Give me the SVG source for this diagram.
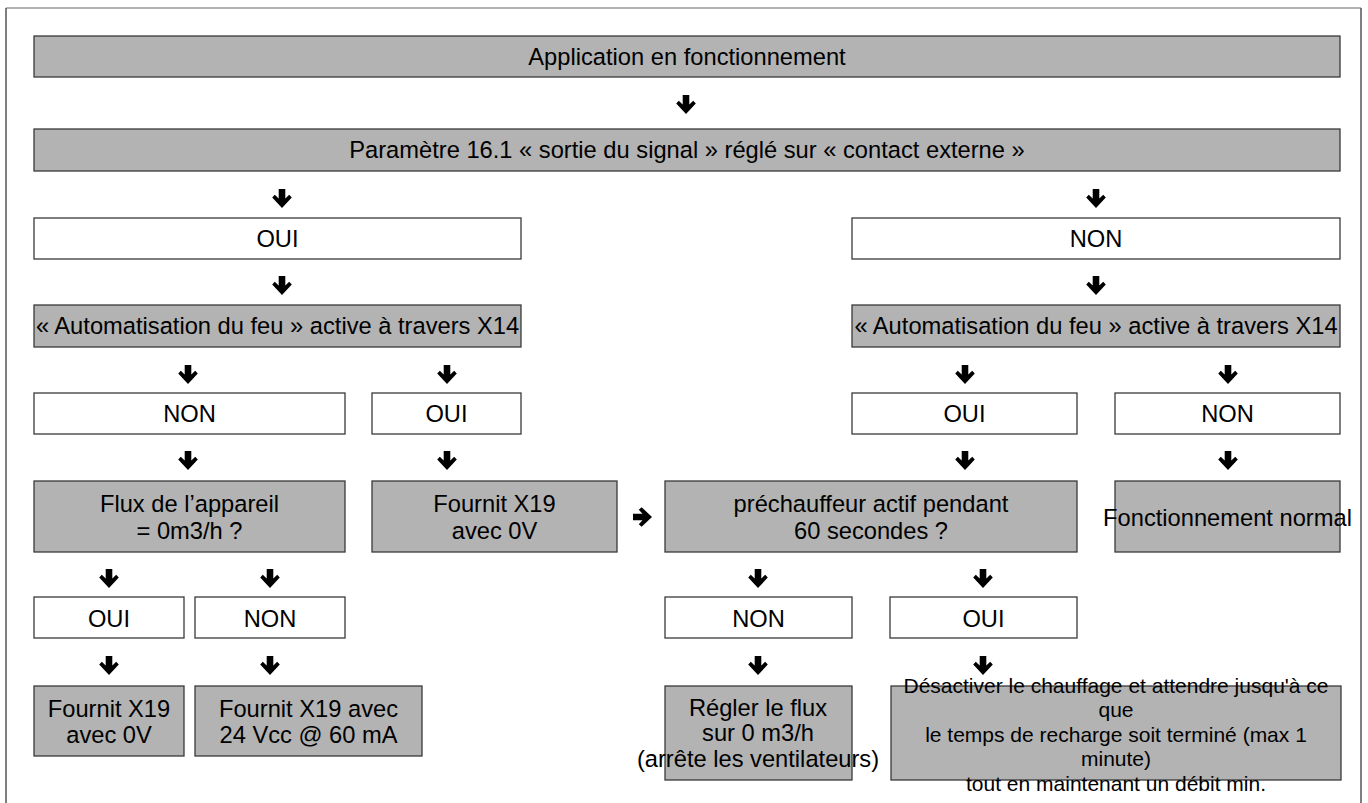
<svg xmlns="http://www.w3.org/2000/svg" xmlns:xlink="http://www.w3.org/1999/xlink" width="1368" height="803" viewBox="0 0 1368 803">
<style>
.g{fill:#b3b3b3;stroke:#3a3a3a;stroke-width:1.3}
.w{fill:#ffffff;stroke:#3a3a3a;stroke-width:1.3}
text{font-family:"Liberation Sans",Arial,sans-serif;font-size:23.7px;fill:#000;text-anchor:middle}
.s{font-size:21px}
.a{fill:#000}
</style>
<defs>
<path id="dn" d="M -3.3 0 H 3.3 V 9.5 L 7.2 5.8 L 9.8 8.6 L 0 19 L -9.8 8.6 L -7.2 5.8 L -3.3 9.5 Z"/>
</defs>
<rect width="1368" height="803" fill="#fff"/>
<g id="frame">
<line x1="6" y1="8" x2="1361" y2="8" stroke="#9a9a9a" stroke-width="1.5"/>
<line x1="6" y1="8" x2="6" y2="803" stroke="#555" stroke-width="1.5"/>
<line x1="1361" y1="8" x2="1361" y2="803" stroke="#555" stroke-width="1.5"/>
</g>
<g id="connectors" class="a">
<use xlink:href="#dn" x="686" y="95"/>
<use xlink:href="#dn" x="282" y="189"/>
<use xlink:href="#dn" x="1096" y="189"/>
<use xlink:href="#dn" x="282" y="276"/>
<use xlink:href="#dn" x="1096" y="276"/>
<use xlink:href="#dn" x="188" y="365"/>
<use xlink:href="#dn" x="447" y="365"/>
<use xlink:href="#dn" x="965" y="365"/>
<use xlink:href="#dn" x="1228" y="365"/>
<use xlink:href="#dn" x="188" y="451"/>
<use xlink:href="#dn" x="447" y="451"/>
<use xlink:href="#dn" x="965" y="451"/>
<use xlink:href="#dn" x="1228" y="451"/>
<use xlink:href="#dn" x="109" y="569"/>
<use xlink:href="#dn" x="270" y="569"/>
<use xlink:href="#dn" x="758" y="569"/>
<use xlink:href="#dn" x="983" y="569"/>
<use xlink:href="#dn" x="109" y="656"/>
<use xlink:href="#dn" x="270" y="656"/>
<use xlink:href="#dn" x="758" y="656"/>
<use xlink:href="#dn" x="983" y="656"/>
<use xlink:href="#dn" transform="translate(633,517) rotate(-90)"/>
</g>
<g id="n1"><rect class="g" x="34" y="36" width="1306" height="41"/><text x="687" y="65">Application en fonctionnement</text></g>
<g id="n2"><rect class="g" x="34" y="129" width="1306" height="42"/><text x="687" y="158">Paramètre 16.1 « sortie du signal » réglé sur « contact externe »</text></g>
<g id="n3"><rect class="w" x="34" y="218" width="487" height="41"/><text x="277.5" y="247">OUI</text></g>
<g id="n4"><rect class="w" x="852" y="218" width="488" height="41"/><text x="1096" y="247">NON</text></g>
<g id="n5"><rect class="g" x="34" y="305" width="487" height="42"/><text x="277.5" y="334">« Automatisation du feu » active à travers X14</text></g>
<g id="n6"><rect class="g" x="852" y="305" width="488" height="42"/><text x="1096" y="334">« Automatisation du feu » active à travers X14</text></g>
<g id="n7"><rect class="w" x="34" y="393" width="311" height="41"/><text x="189.5" y="422">NON</text></g>
<g id="n8"><rect class="w" x="372" y="393" width="149" height="41"/><text x="446.5" y="422">OUI</text></g>
<g id="n9"><rect class="w" x="852" y="393" width="225" height="41"/><text x="964.5" y="422">OUI</text></g>
<g id="n10"><rect class="w" x="1115" y="393" width="225" height="41"/><text x="1227.5" y="422">NON</text></g>
<g id="n11"><rect class="g" x="34" y="481" width="311" height="71"/><text x="189.5" y="512">Flux de l’appareil</text><text x="189.5" y="539">= 0m3/h ?</text></g>
<g id="n12"><rect class="g" x="372" y="481" width="245" height="71"/><text x="494.5" y="512">Fournit X19</text><text x="494.5" y="539">avec 0V</text></g>
<g id="n13"><rect class="g" x="665" y="481" width="412" height="71"/><text x="871" y="512">préchauffeur actif pendant</text><text x="871" y="539">60 secondes ?</text></g>
<g id="n14"><rect class="g" x="1115" y="481" width="225" height="71"/><text x="1227.5" y="526">Fonctionnement normal</text></g>
<g id="n15"><rect class="w" x="34" y="597" width="150" height="41"/><text x="109" y="627">OUI</text></g>
<g id="n16"><rect class="w" x="195" y="597" width="150" height="41"/><text x="270" y="627">NON</text></g>
<g id="n17"><rect class="w" x="665" y="597" width="187" height="41"/><text x="758.5" y="627">NON</text></g>
<g id="n18"><rect class="w" x="890" y="597" width="187" height="41"/><text x="983.5" y="627">OUI</text></g>
<g id="n19"><rect class="g" x="34" y="686" width="150" height="70"/><text x="109" y="716.5">Fournit X19</text><text x="109" y="743">avec 0V</text></g>
<g id="n20"><rect class="g" x="195" y="686" width="227" height="70"/><text x="308.5" y="716.5">Fournit X19 avec</text><text x="308.5" y="743">24 Vcc @ 60 mA</text></g>
<g id="n21"><rect class="g" x="665" y="686" width="187" height="94"/><text x="758" y="715.5">Régler le flux</text><text x="758" y="741">sur 0 m3/h</text><text x="758" y="766.5">(arrête les ventilateurs)</text></g>
<g id="n22"><rect class="g" x="891" y="686" width="450" height="94"/><text class="s" x="1116" y="692.5">Désactiver le chauffage et attendre jusqu'à ce</text><text class="s" x="1116" y="717">que</text><text class="s" x="1116" y="741.5">le temps de recharge soit terminé (max 1</text><text class="s" x="1116" y="766">minute)</text><text class="s" x="1116" y="790.5">tout en maintenant un débit min.</text></g>
</svg>
